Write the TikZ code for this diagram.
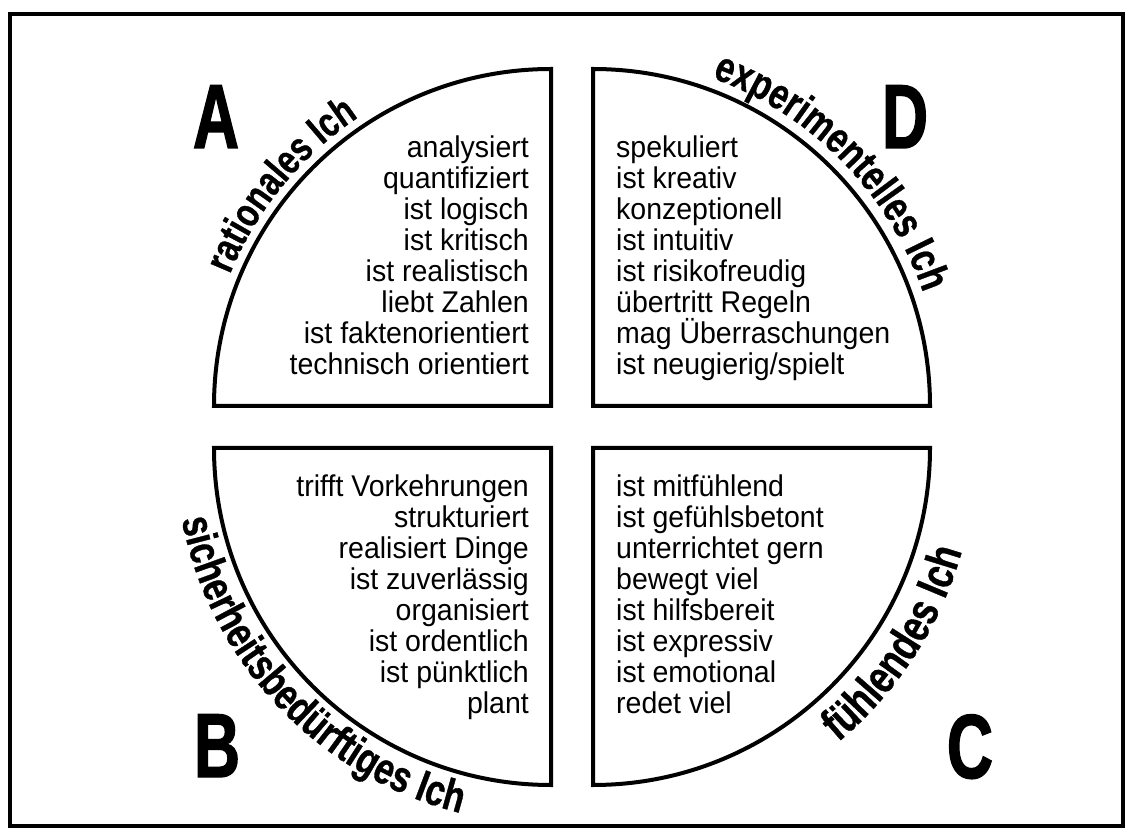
\documentclass[tikz,border=0pt]{standalone}
\usepackage{fontspec}
\setmainfont{Liberation Sans}
\newfontfamily\itemfont{Liberation Sans}[FakeStretch=0.95]
\newfontfamily\bigletter{Liberation Sans}[FakeStretch=0.7,FakeBold=1.5]
\newfontfamily\arcfont{Liberation Sans}[FakeStretch=0.78,FakeBold=0.8]
\usetikzlibrary{decorations.text}
\newcommand\lblA{\arcfont\bfseries\fontsize{41}{41}\selectfont}
\newcommand\lblD{\arcfont\bfseries\fontsize{43}{43}\selectfont}
\newcommand\lblB{\arcfont\bfseries\fontsize{44}{44}\selectfont}
\newcommand\lblC{\arcfont\bfseries\fontsize{46}{46}\selectfont}
\begin{document}
\begin{tikzpicture}[x=1pt,y=1pt,
  quad/.style={line width=4pt, line join=miter},
  itemR/.style={anchor=base east, inner sep=0pt, font=\itemfont\fontsize{30}{30}\selectfont},
  itemL/.style={anchor=base west, inner sep=0pt, font=\itemfont\fontsize{30}{30}\selectfont},
  bigL/.style={anchor=base, inner sep=0pt, font=\bigletter\bfseries\fontsize{91}{91}\selectfont}]
\useasboundingbox (0,0) rectangle (1135,839);
\draw[line width=4pt] (10,13) rectangle (1123,825);
\coordinate (cA) at (551,433);
\coordinate (cD) at (593,433);
\coordinate (cB) at (551,391);
\coordinate (cC) at (593,391);
\draw[quad] (cA) -- ++(-337,0) arc[start angle=180,end angle=90,radius=337pt] -- cycle;
\draw[quad] (cD) -- ++(0,337) arc[start angle=90,end angle=0,radius=337pt] -- cycle;
\draw[quad] (cB) -- ++(-337,0) arc[start angle=180,end angle=270,radius=337pt] -- cycle;
\draw[quad] (cC) -- ++(337,0) arc[start angle=0,end angle=-90,radius=337pt] -- cycle;
% big letters
\node[bigL] (LA) at (216,691) {A};
\node[bigL] (LD) at (905,691) {D};
\node[bigL] (LB) at (217,62) {B};
\node[bigL] (LC) at (970,61) {C};
% items
\foreach \t [count=\i from 0] in {analysiert,quantifiziert,ist logisch,ist kritisch,ist realistisch,liebt Zahlen,ist faktenorientiert,technisch orientiert}
  \node[itemR] (a\i) at (529,{681-30.86*\i}) {\t};
\foreach \t [count=\i from 0] in {spekuliert,ist kreativ,konzeptionell,ist intuitiv,ist risikofreudig,übertritt Regeln,mag Überraschungen,ist neugierig/spielt}
  \node[itemL] (d\i) at (616,{681-30.86*\i}) {\t};
\foreach \t [count=\i from 0] in {trifft Vorkehrungen,strukturiert,realisiert Dinge,ist zuverlässig,organisiert,ist ordentlich,ist pünktlich,plant}
  \node[itemR] (b\i) at (529,{342-30.86*\i}) {\t};
\foreach \t [count=\i from 0] in {ist mitfühlend,ist gefühlsbetont,unterrichtet gern,bewegt viel,ist hilfsbereit,ist expressiv,ist emotional,redet viel}
  \node[itemL] (c\i) at (616,{342-30.86*\i}) {\t};
% arc labels
\path[decorate, decoration={text along path, text align=center, text={|\lblA|rationales Ich}}]
  ([shift={(176:347pt)}]cA) arc[start angle=176, end angle=105.4, radius=347pt];
\path[decorate, decoration={text along path, text align=center, text={|\lblD|experimentelles Ich}}]
  ([shift={(85:349pt)}]cD) arc[start angle=85, end angle=4, radius=349pt];
\path[decorate, decoration={text along path, text align=center, text={|\lblB|sicherheitsbedürftiges Ich}}]
  ([shift={(180:376pt)}]cB) arc[start angle=180, end angle=267, radius=376pt];
\path[decorate, decoration={text along path, text align=center, text={|\lblC|fühlendes Ich}}]
  ([shift={(-75:383pt)}]cC) arc[start angle=-75, end angle=9.2, radius=383pt];
\end{tikzpicture}
\end{document}
